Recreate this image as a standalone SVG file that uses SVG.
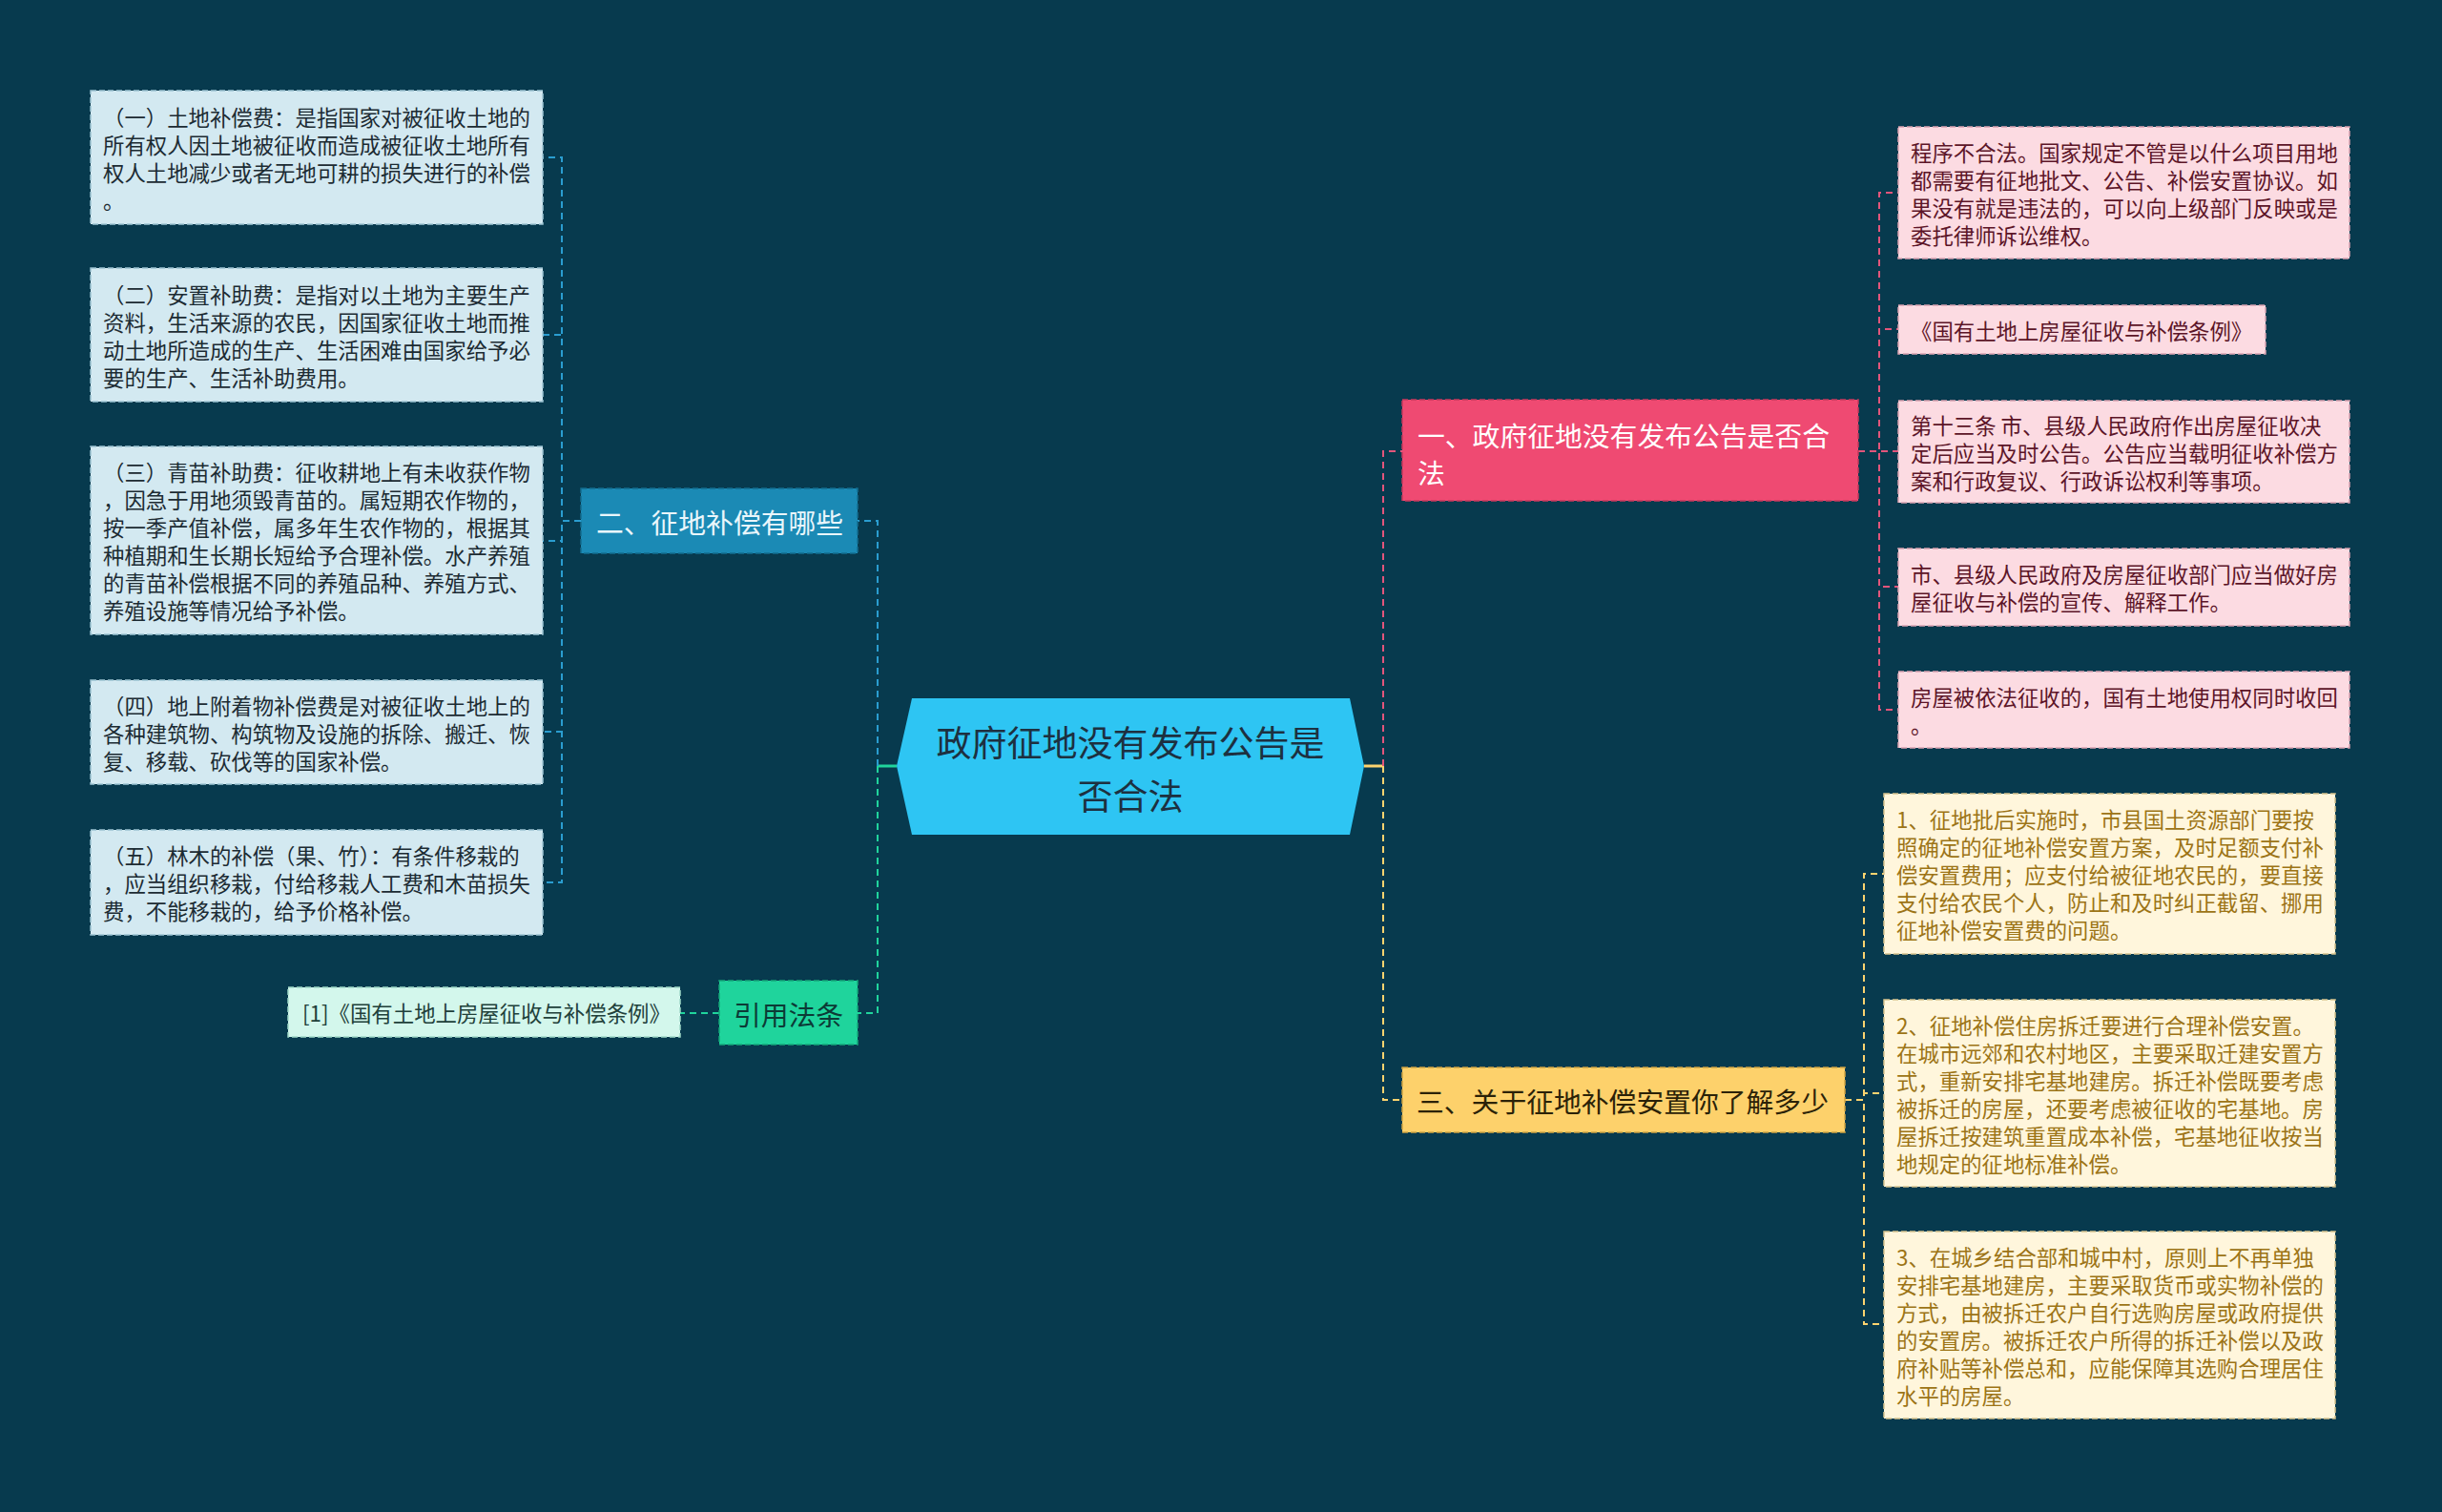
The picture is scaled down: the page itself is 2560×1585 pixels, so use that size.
<svg xmlns="http://www.w3.org/2000/svg" width="2560" height="1585" viewBox="0 0 2560 1585">
<style>
text{font-family:"Noto Sans CJK SC","Noto Sans",sans-serif;dominant-baseline:central}
.leaf{font-size:22.4px}
.lb rect{fill:#d3e9f1;stroke:#9dc3d2;stroke-width:1.5;stroke-dasharray:6 3}
.lb text{fill:#1c2b33}
.pk rect{fill:#fcdbe2;stroke:#d9a3b1;stroke-width:1.5;stroke-dasharray:6 3}
.pk text{fill:#5c1528}
.yl rect{fill:#fff6dc;stroke:#d8c38e;stroke-width:1.5;stroke-dasharray:6 3}
.yl text{fill:#9c7416}
.sub{font-size:28.8px}
.c path{fill:none;stroke-width:2;stroke-dasharray:7 5}
.cb{stroke:#2a9dd0}
.cg{stroke:#20d49c}
.cp{stroke:#e2557b}
.cy{stroke:#fcd36f}
</style>
<rect x="0" y="0" width="2560" height="1585" fill="#073a4e"/>

<g id="connectors" class="c">
  <line x1="920" y1="803" x2="940" y2="803" stroke="#20d49c" stroke-width="3"/>
  <line x1="1430" y1="803" x2="1450" y2="803" stroke="#fcd36f" stroke-width="3"/>
  <path class="cb" d="M920 803 V546 H899"/>
  <path class="cg" d="M920 803 V1062 H899"/>
  <path class="cp" d="M1450 803 V473 H1470"/>
  <path class="cy" d="M1450 803 V1153 H1470"/>
  <path class="cb" d="M609 546 H589 V165 H569"/>
  <path class="cb" d="M609 546 H589 V351 H569"/>
  <path class="cb" d="M609 546 H589 V567 H569"/>
  <path class="cb" d="M609 546 H589 V767 H569"/>
  <path class="cb" d="M609 546 H589 V925 H569"/>
  <path class="cg" d="M754 1062 H713"/>
  <path class="cp" d="M1948 473 H1970 V202 H1990"/>
  <path class="cp" d="M1948 473 H1970 V345 H1990"/>
  <path class="cp" d="M1948 473 H1990"/>
  <path class="cp" d="M1948 473 H1970 V615 H1990"/>
  <path class="cp" d="M1948 473 H1970 V744 H1990"/>
  <path class="cy" d="M1934 1153 H1954 V916 H1975"/>
  <path class="cy" d="M1934 1153 H1954 V1146 H1975"/>
  <path class="cy" d="M1934 1153 H1954 V1388 H1975"/>
</g>

<g id="center">
  <polygon points="940,803 956,732 1415,732 1430,803 1415,875 956,875" fill="#2ec5f3"/>
  <text font-size="37" fill="#1d3040" text-anchor="middle"><tspan x="1185" y="777">政府征地没有发布公告是</tspan><tspan x="1185" y="833">否合法</tspan></text>
</g>

<g id="n2">
  <rect x="609" y="512" width="290" height="68" fill="#1b8ab5" stroke="#136d90" stroke-width="1.5" stroke-dasharray="6 3"/>
  <text class="sub" x="754.5" y="546" fill="#e9f6fb" text-anchor="middle">二、征地补偿有哪些</text>
</g>

<g id="ref">
  <rect x="754" y="1028" width="145" height="67" fill="#1fd49c" stroke="#15a87a" stroke-width="1.5" stroke-dasharray="6 3"/>
  <text class="sub" x="826.5" y="1062" fill="#0c3a36" text-anchor="middle">引用法条</text>
</g>

<g id="ref1">
  <rect x="302" y="1035" width="411" height="52" fill="#d3f7ec" stroke="#9fd8c6" stroke-width="1.5" stroke-dasharray="6 3"/>
  <text class="leaf" x="317" y="1061" fill="#21403a">[1]《国有土地上房屋征收与补偿条例》</text>
</g>

<g id="n1">
  <rect x="1470" y="419" width="478" height="106" fill="#ef4a72" stroke="#c8385c" stroke-width="1.5" stroke-dasharray="6 3"/>
  <text class="sub" x="1486" y="455" fill="#ffffff">一、政府征地没有发布公告是否合</text>
  <text class="sub" x="1486" y="494" fill="#ffffff">法</text>
</g>

<g id="n3">
  <rect x="1470" y="1119" width="464" height="68" fill="#fdd16b" stroke="#cfa443" stroke-width="1.5" stroke-dasharray="6 3"/>
  <text class="sub" x="1485" y="1153" fill="#2b2208">三、关于征地补偿安置你了解多少</text>
</g>

<g id="l1" class="lb leaf">
  <rect x="95" y="95" width="474" height="140"/>
  <text x="108" y="122">（一）土地补偿费：是指国家对被征收土地的</text>
  <text x="108" y="151">所有权人因土地被征收而造成被征收土地所有</text>
  <text x="108" y="180">权人土地减少或者无地可耕的损失进行的补偿</text>
  <text x="108" y="209">。</text>
</g>
<g id="l2" class="lb leaf">
  <rect x="95" y="281" width="474" height="140"/>
  <text x="108" y="308">（二）安置补助费：是指对以土地为主要生产</text>
  <text x="108" y="337">资料，生活来源的农民，因国家征收土地而推</text>
  <text x="108" y="366">动土地所造成的生产、生活困难由国家给予必</text>
  <text x="108" y="395">要的生产、生活补助费用。</text>
</g>
<g id="l3" class="lb leaf">
  <rect x="95" y="468" width="474" height="197"/>
  <text x="108" y="494">（三）青苗补助费：征收耕地上有未收获作物</text>
  <text x="108" y="523">，因急于用地须毁青苗的。属短期农作物的，</text>
  <text x="108" y="552">按一季产值补偿，属多年生农作物的，根据其</text>
  <text x="108" y="581">种植期和生长期长短给予合理补偿。水产养殖</text>
  <text x="108" y="610">的青苗补偿根据不同的养殖品种、养殖方式、</text>
  <text x="108" y="639">养殖设施等情况给予补偿。</text>
</g>
<g id="l4" class="lb leaf">
  <rect x="95" y="713" width="474" height="109"/>
  <text x="108" y="739">（四）地上附着物补偿费是对被征收土地上的</text>
  <text x="108" y="768">各种建筑物、构筑物及设施的拆除、搬迁、恢</text>
  <text x="108" y="797">复、移载、砍伐等的国家补偿。</text>
</g>
<g id="l5" class="lb leaf">
  <rect x="95" y="870" width="474" height="110"/>
  <text x="108" y="896">（五）林木的补偿（果、竹）：有条件移栽的</text>
  <text x="108" y="925">，应当组织移栽，付给移栽人工费和木苗损失</text>
  <text x="108" y="954">费，不能移栽的，给予价格补偿。</text>
</g>

<g id="p1" class="pk leaf">
  <rect x="1990" y="133" width="473" height="138"/>
  <text x="2003" y="159">程序不合法。国家规定不管是以什么项目用地</text>
  <text x="2003" y="188">都需要有征地批文、公告、补偿安置协议。如</text>
  <text x="2003" y="217">果没有就是违法的，可以向上级部门反映或是</text>
  <text x="2003" y="246">委托律师诉讼维权。</text>
</g>
<g id="p2" class="pk leaf">
  <rect x="1990" y="320" width="385" height="51"/>
  <text x="2003" y="345.5">《国有土地上房屋征收与补偿条例》</text>
</g>
<g id="p3" class="pk leaf">
  <rect x="1990" y="420" width="473" height="107"/>
  <text x="2003" y="445">第十三条 市、县级人民政府作出房屋征收决</text>
  <text x="2003" y="474">定后应当及时公告。公告应当载明征收补偿方</text>
  <text x="2003" y="503">案和行政复议、行政诉讼权利等事项。</text>
</g>
<g id="p4" class="pk leaf">
  <rect x="1990" y="575" width="473" height="81"/>
  <text x="2003" y="601">市、县级人民政府及房屋征收部门应当做好房</text>
  <text x="2003" y="630">屋征收与补偿的宣传、解释工作。</text>
</g>
<g id="p5" class="pk leaf">
  <rect x="1990" y="704" width="473" height="80"/>
  <text x="2003" y="730">房屋被依法征收的，国有土地使用权同时收回</text>
  <text x="2003" y="759">。</text>
</g>

<g id="y1" class="yl leaf">
  <rect x="1975" y="832" width="473" height="168"/>
  <text x="1988" y="858">1、征地批后实施时，市县国土资源部门要按</text>
  <text x="1988" y="887">照确定的征地补偿安置方案，及时足额支付补</text>
  <text x="1988" y="916">偿安置费用；应支付给被征地农民的，要直接</text>
  <text x="1988" y="945">支付给农民个人，防止和及时纠正截留、挪用</text>
  <text x="1988" y="974">征地补偿安置费的问题。</text>
</g>
<g id="y2" class="yl leaf">
  <rect x="1975" y="1048" width="473" height="196"/>
  <text x="1988" y="1074">2、征地补偿住房拆迁要进行合理补偿安置。</text>
  <text x="1988" y="1103">在城市远郊和农村地区，主要采取迁建安置方</text>
  <text x="1988" y="1132">式，重新安排宅基地建房。拆迁补偿既要考虑</text>
  <text x="1988" y="1161">被拆迁的房屋，还要考虑被征收的宅基地。房</text>
  <text x="1988" y="1190">屋拆迁按建筑重置成本补偿，宅基地征收按当</text>
  <text x="1988" y="1219">地规定的征地标准补偿。</text>
</g>
<g id="y3" class="yl leaf">
  <rect x="1975" y="1291" width="473" height="196"/>
  <text x="1988" y="1317">3、在城乡结合部和城中村，原则上不再单独</text>
  <text x="1988" y="1346">安排宅基地建房，主要采取货币或实物补偿的</text>
  <text x="1988" y="1375">方式，由被拆迁农户自行选购房屋或政府提供</text>
  <text x="1988" y="1404">的安置房。被拆迁农户所得的拆迁补偿以及政</text>
  <text x="1988" y="1433">府补贴等补偿总和，应能保障其选购合理居住</text>
  <text x="1988" y="1462">水平的房屋。</text>
</g>
</svg>
